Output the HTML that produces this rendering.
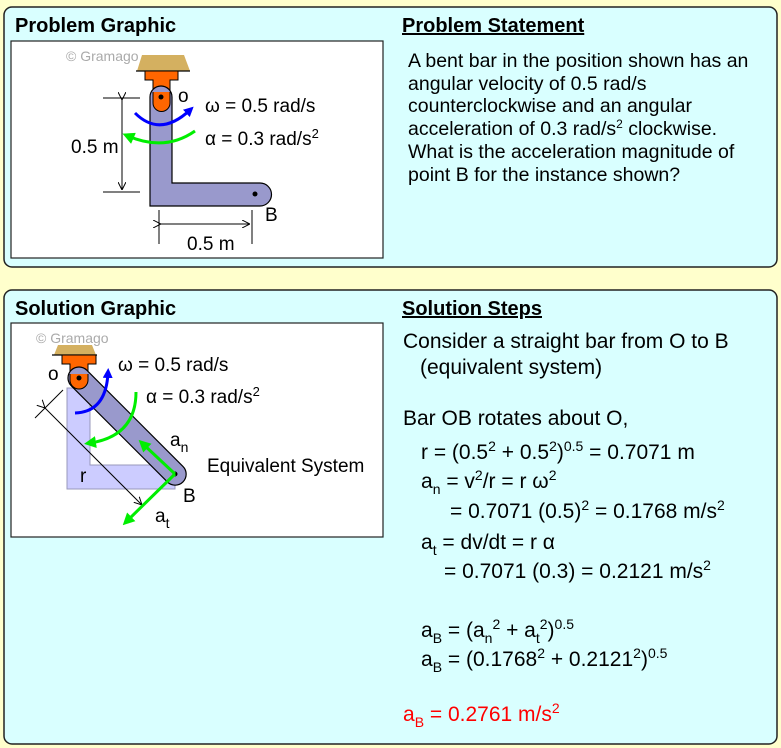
<!DOCTYPE html>
<html><head><meta charset="utf-8"><style>
html,body{margin:0;padding:0;background:#ffffcc;}
svg{display:block;font-family:"Liberation Sans",Arial,sans-serif;}
</style></head><body>
<svg width="781" height="748" viewBox="0 0 781 748" xmlns="http://www.w3.org/2000/svg">
<defs>
<marker id="ab" markerWidth="10" markerHeight="10" refX="5" refY="5" orient="auto" markerUnits="userSpaceOnUse"><path d="M0,0 L10,5 L0,10 z" fill="#0000ff"/></marker>
<marker id="ag" markerWidth="12" markerHeight="12" refX="6" refY="6" orient="auto" markerUnits="userSpaceOnUse"><path d="M0,0 L12,6 L0,12 z" fill="#00ee00"/></marker>
<marker id="ak" markerWidth="8" markerHeight="8" refX="8" refY="4" orient="auto" markerUnits="userSpaceOnUse"><path d="M0,0 L8,4 L0,8" fill="none" stroke="#000" stroke-width="1"/></marker>
</defs>
<rect width="781" height="748" fill="#ffffcc"/>
<rect x="4" y="7" width="773" height="260" rx="8" fill="#d9ffff" stroke="#222" stroke-width="1.5"/>
<rect x="4" y="290" width="773" height="454" rx="8" fill="#d9ffff" stroke="#222" stroke-width="1.5"/>
<rect x="11" y="41" width="372" height="217" fill="#fff" stroke="#222" stroke-width="1.2"/>
<rect x="11" y="323" width="372" height="214" fill="#fff" stroke="#222" stroke-width="1.2"/>
<g font-weight="bold" font-size="20">
<text x="15" y="32">Problem Graphic</text>
<text x="402" y="32" text-decoration="underline">Problem Statement</text>
<text x="15" y="315">Solution Graphic</text>
<text x="402" y="315" text-decoration="underline">Solution Steps</text>
</g>
<g font-size="19.5">
<text x="408" y="67">A bent bar in the position shown has an</text>
<text x="408" y="90">angular velocity of 0.5 rad/s</text>
<text x="408" y="112">counterclockwise and an angular</text>
<text x="408" y="135">acceleration of 0.3 rad/s<tspan font-size="12" dy="-7">2</tspan><tspan dy="7"> clockwise.</tspan></text>
<text x="408" y="158">What is the acceleration magnitude of</text>
<text x="408" y="181">point B for the instance shown?</text>
</g>
<g font-size="21">
<text x="403" y="348">Consider a straight bar from O to B</text>
<text x="420" y="374">(equivalent system)</text>
<text x="403" y="425">Bar OB rotates about O,</text>
<text x="421" y="459">r = (0.5<tspan font-size="14" dy="-8">2</tspan><tspan dy="8"> + 0.5</tspan><tspan font-size="14" dy="-8">2</tspan><tspan dy="8">)</tspan><tspan font-size="14" dy="-8">0.5</tspan><tspan dy="8"> = 0.7071 m</tspan></text>
<text x="421" y="488">a<tspan font-size="14" dy="6">n</tspan><tspan dy="-6"> = v</tspan><tspan font-size="14" dy="-8">2</tspan><tspan dy="8">/r = r ω</tspan><tspan font-size="14" dy="-8">2</tspan></text>
<text x="450" y="518">= 0.7071 (0.5)<tspan font-size="14" dy="-8">2</tspan><tspan dy="8"> = 0.1768 m/s</tspan><tspan font-size="14" dy="-8">2</tspan></text>
<text x="421" y="549">a<tspan font-size="14" dy="6">t</tspan><tspan dy="-6"> = dv/dt = r α</tspan></text>
<text x="444" y="578">= 0.7071 (0.3) = 0.2121 m/s<tspan font-size="14" dy="-8">2</tspan></text>
<text x="421" y="637">a<tspan font-size="14" dy="6">B</tspan><tspan dy="-6"> = (a</tspan><tspan font-size="14" dy="6">n</tspan><tspan font-size="14" dy="-14">2</tspan><tspan dy="8"> + a</tspan><tspan font-size="14" dy="6">t</tspan><tspan font-size="14" dy="-14">2</tspan><tspan dy="8">)</tspan><tspan font-size="14" dy="-8">0.5</tspan></text>
<text x="421" y="666">a<tspan font-size="14" dy="6">B</tspan><tspan dy="-6"> = (0.1768</tspan><tspan font-size="14" dy="-8">2</tspan><tspan dy="8"> + 0.2121</tspan><tspan font-size="14" dy="-8">2</tspan><tspan dy="8">)</tspan><tspan font-size="14" dy="-8">0.5</tspan></text>
<text x="403" y="721" fill="#ff0000">a<tspan font-size="14" dy="6">B</tspan><tspan dy="-6"> = 0.2761 m/s</tspan><tspan font-size="14" dy="-8">2</tspan></text>
</g>
<!-- Problem graphic -->
<text x="66" y="61" font-size="14" fill="#aaa">© Gramago</text>
<path d="M142,55 L184,55 L190,71 L137,71 z" fill="#d4b060"/>
<line x1="136" y1="71" x2="190" y2="71" stroke="#000" stroke-width="1.2"/>
<path d="M145,71 L178,71 L178,80 L170,80 L170,92 L153,92 L153,80 L145,80 z" fill="#ff6600" stroke="#000" stroke-width="1"/>
<path d="M150,97 A11,11 0 0 1 172,97 L172,183 L260,183 A11.5,11.5 0 0 1 260,206 L150,206 z" fill="#9999cc" stroke="#000" stroke-width="1.2"/>
<path d="M153,92 L153,103 A8,8 0 0 0 170,103 L170,92" fill="#ff6600" stroke="#000" stroke-width="1"/>
<circle cx="161" cy="97" r="2.5" fill="#000"/>
<circle cx="255" cy="194" r="2.5" fill="#000"/>
<text x="178" y="102" font-size="19">o</text>
<text x="265" y="221" font-size="19">B</text>
<line x1="103" y1="98" x2="140" y2="98" stroke="#000"/>
<line x1="103" y1="192" x2="140" y2="192" stroke="#000"/>
<line x1="122" y1="100" x2="122" y2="190" stroke="#000" marker-start="url(#ak)" marker-end="url(#ak)"/>
<text x="71" y="153" font-size="19">0.5 m</text>
<line x1="159" y1="210" x2="159" y2="244" stroke="#000"/>
<line x1="252" y1="210" x2="252" y2="244" stroke="#000"/>
<line x1="161" y1="224" x2="250" y2="224" stroke="#000" marker-start="url(#ak)" marker-end="url(#ak)"/>
<text x="187" y="250" font-size="19">0.5 m</text>
<path d="M135,113 Q160,138 190,110" fill="none" stroke="#0000ff" stroke-width="3" marker-end="url(#ab)"/>
<path d="M195,131 Q165,152 128,136" fill="none" stroke="#00ee00" stroke-width="3" marker-end="url(#ag)"/>
<text x="205" y="112" font-size="19">ω = 0.5 rad/s</text>
<text x="205" y="145" font-size="19">α = 0.3 rad/s<tspan font-size="13" dy="-7">2</tspan></text>
<!-- Solution graphic -->
<text x="36" y="343" font-size="14" fill="#aaa">© Gramago</text>
<path d="M58,345 L92,345 L96,355 L54,355 z" fill="#d4b060"/>
<line x1="52" y1="355" x2="97" y2="355" stroke="#000" stroke-width="1.2"/>
<path d="M62,355 L96,355 L96,364 L88,364 L88,376 L70,376 L70,364 L62,364 z" fill="#ff6600" stroke="#000" stroke-width="1"/>
<path d="M67,388 L67,489 L175,489 L175,465 L90,465 L90,388 z" fill="#ccccff" stroke="#9999bb" stroke-width="1"/>
<g transform="translate(79,378) rotate(45)">
<path d="M0,-11 L136,-11 A11,11 0 0 1 136,11 L0,11 A11,11 0 0 1 0,-11 z" fill="#9999cc" stroke="#000" stroke-width="1.2"/>
</g>
<path d="M70,374 L70,380 A9,9 0 0 0 88,380 L88,374" fill="#ff6600" stroke="#000" stroke-width="1"/>
<circle cx="79" cy="378" r="2.5" fill="#000"/>
<circle cx="175" cy="474" r="2.5" fill="#000"/>
<text x="48" y="380" font-size="19">o</text>
<text x="183" y="502" font-size="19">B</text>
<line x1="35" y1="418" x2="63" y2="390" stroke="#000"/>
<line x1="45" y1="408" x2="142" y2="505" stroke="#000" marker-start="url(#ak)" marker-end="url(#ak)"/>
<text x="80" y="482" font-size="19">r</text>
<path d="M75,413 Q106,412 108,373" fill="none" stroke="#0000ff" stroke-width="3" marker-end="url(#ab)"/>
<path d="M136,392 Q136,436 90,443" fill="none" stroke="#00ee00" stroke-width="3" marker-end="url(#ag)"/>
<line x1="175" y1="474" x2="143" y2="444" stroke="#00ee00" stroke-width="3" marker-end="url(#ag)"/>
<line x1="175" y1="474" x2="127" y2="521" stroke="#00ee00" stroke-width="3" marker-end="url(#ag)"/>
<text x="170" y="446" font-size="19">a<tspan font-size="14" dy="6">n</tspan></text>
<text x="155" y="522" font-size="19">a<tspan font-size="14" dy="6">t</tspan></text>
<text x="207" y="472" font-size="19">Equivalent System</text>
<text x="118" y="371" font-size="19">ω = 0.5 rad/s</text>
<text x="146" y="403" font-size="19">α = 0.3 rad/s<tspan font-size="13" dy="-7">2</tspan></text>
</svg>
</body></html>
